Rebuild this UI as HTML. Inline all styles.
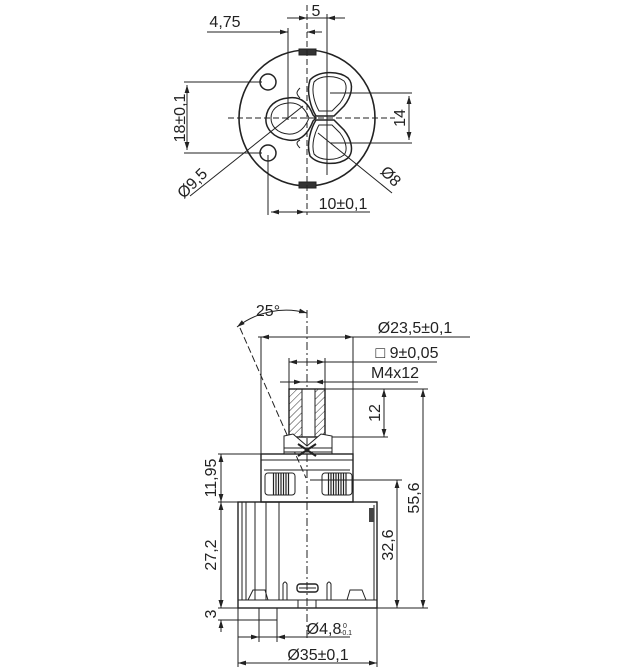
<!DOCTYPE html>
<html><head><meta charset="utf-8"><style>
html,body{margin:0;padding:0;background:#fff;}
svg{display:block;}
text{font-family:"Liberation Sans Narrow","Liberation Sans",sans-serif;font-size:16px;fill:#222;}
</style></head><body>
<svg width="625" height="670" viewBox="0 0 625 670" xmlns="http://www.w3.org/2000/svg">
<defs>
<marker id="a" viewBox="0 0 10 6" refX="10" refY="3" markerWidth="8" markerHeight="5" orient="auto-start-reverse"><path d="M0,0L10,3L0,6z" fill="#222"/></marker>
<pattern id="h" width="5" height="5" patternUnits="userSpaceOnUse" patternTransform="rotate(45)"><line x1="0" y1="0" x2="0" y2="5" stroke="#333" stroke-width="1"/></pattern>
<pattern id="v" width="2.5" height="5" patternUnits="userSpaceOnUse"><line x1="1" y1="0" x2="1" y2="5" stroke="#222" stroke-width="1.2"/></pattern>
</defs>
<g stroke="#222" fill="none" stroke-width="1">
<!-- TOP VIEW -->
<circle cx="307" cy="118" r="68" stroke-width="1.6"/>
<rect x="299" y="49" width="17" height="6" fill="#333"/>
<rect x="299" y="182" width="17" height="6" fill="#333"/>
<circle cx="268" cy="82" r="8" stroke-width="1.5"/>
<circle cx="268" cy="153" r="8" stroke-width="1.5"/>
<path d="M288,98 C300,96 308,102 313,115 L316,118 L313,121 C308,134 300,142 288,140 C273,138 265,128 266,118 C267,106 276,99 288,98Z" stroke-width="1.5"/>
<path d="M288,103 C298,102 305,108 309,118 C305,128 298,135 288,134 C277,133 271,126 271,118 C271,110 277,104 288,103Z"/>
<path d="M310,80 C318,71 338,70 348,78 C354,84 352,96 344,106 L334,116 L316,116 C311,108 306,92 310,80Z" stroke-width="1.5"/>
<path d="M314,82 C320,75 336,75 344,81 C348,86 346,95 340,103 L332,111 L319,111 C315,104 311,92 314,82Z"/>
<path d="M310,156 C318,165 338,166 348,158 C354,152 352,140 344,130 L334,120 L316,120 C311,128 306,144 310,156Z" stroke-width="1.5"/>
<path d="M314,154 C320,161 336,161 344,155 C348,150 346,141 340,133 L332,125 L319,125 C315,132 311,144 314,154Z"/>
<path d="M300,88 C296,92 296,94 300,98" />
<path d="M300,148 C296,144 296,142 300,140" />
<line x1="228" y1="118" x2="395" y2="118" stroke-dasharray="6,3"/>
<line x1="307" y1="5" x2="307" y2="215" stroke-dasharray="6,3"/>
<line x1="288" y1="28" x2="288" y2="120"/>
<line x1="327" y1="14" x2="327" y2="175"/>
<line x1="268" y1="155" x2="268" y2="215"/>
<line x1="287" y1="18" x2="307" y2="18" marker-end="url(#a)"/>
<line x1="345" y1="18" x2="327" y2="18" marker-end="url(#a)"/>
<line x1="307" y1="18" x2="327" y2="18"/>
<line x1="207" y1="32" x2="288" y2="32" marker-end="url(#a)"/>
<line x1="322" y1="32" x2="307" y2="32" marker-end="url(#a)"/>
<line x1="184" y1="82" x2="262" y2="82"/><line x1="184" y1="153" x2="262" y2="153"/>
<line x1="187" y1="85" x2="187" y2="150" marker-start="url(#a)" marker-end="url(#a)"/>
<line x1="330" y1="93" x2="412" y2="93"/><line x1="330" y1="143" x2="412" y2="143"/>
<line x1="409" y1="96" x2="409" y2="140" marker-start="url(#a)" marker-end="url(#a)"/>
<line x1="271" y1="212" x2="370" y2="212"/>
<line x1="271" y1="212" x2="305" y2="212" marker-start="url(#a)" marker-end="url(#a)"/>
<line x1="303" y1="106" x2="190" y2="196"/>
<line x1="318" y1="133" x2="392" y2="193"/>

<!-- SIDE VIEW -->
<line x1="307" y1="310" x2="307" y2="640" stroke-dasharray="8,3,2,3"/>
<line x1="240" y1="328" x2="306" y2="478" stroke-dasharray="7,3"/>
<path d="M237,327 A80,80 0 0 1 307,313" marker-start="url(#a)" marker-end="url(#a)"/>
<rect x="289" y="389" width="36" height="48" fill="url(#h)"/>
<rect x="302" y="389" width="13" height="48" fill="#fff"/>
<rect x="289" y="389" width="36" height="48" stroke-width="1.4"/>
<line x1="302" y1="389" x2="302" y2="437"/><line x1="315" y1="389" x2="315" y2="437"/>
<path d="M284,436 L293,434 L300,440 L307,446 L314,440 L321,434 L332,436 L332,452 L284,452Z" fill="#fff"/>
<path d="M298,444 L316,456 M316,444 L298,456" stroke-width="2"/>
<rect x="284" y="448" width="48" height="6"/>
<rect x="261" y="454" width="92" height="48" stroke-width="1.4"/>
<line x1="261" y1="460" x2="353" y2="460"/>
<line x1="264" y1="470" x2="350" y2="470"/>
<rect x="265" y="473" width="30" height="22" rx="3"/>
<rect x="322" y="473" width="30" height="22" rx="3"/>
<rect x="272" y="473" width="18" height="22" fill="url(#v)" stroke="none"/>
<rect x="327" y="473" width="20" height="22" fill="url(#v)" stroke="none"/>
<rect x="238" y="502" width="139" height="106" stroke-width="1.4"/>
<line x1="238" y1="600" x2="377" y2="600"/>
<line x1="242" y1="502" x2="242" y2="600"/>
<line x1="246" y1="502" x2="246" y2="600"/>
<line x1="255" y1="502" x2="255" y2="600"/>
<line x1="266" y1="502" x2="266" y2="600"/>
<line x1="279" y1="502" x2="279" y2="600"/>
<line x1="374" y1="505" x2="374" y2="600"/>
<rect x="369" y="508" width="5" height="14" fill="#444" stroke="none"/>
<path d="M248,600 L253,590 L265,590 L268,600" />
<path d="M347,600 L350,590 L362,590 L366,600" />
<rect x="297" y="584" width="21" height="8" rx="3" stroke-width="1.4"/>
<line x1="299" y1="588" x2="316" y2="588"/>
<path d="M283,600 L283,584 Q285,580 287,584 L287,600"/>
<path d="M327,600 L327,584 Q329,580 331,584 L331,600"/>
<line x1="298" y1="600" x2="298" y2="608"/><line x1="316" y1="600" x2="316" y2="608"/>
<rect x="259" y="608" width="18" height="12"/>
<line x1="258" y1="337" x2="470" y2="337"/>
<line x1="261" y1="337" x2="353" y2="337" marker-start="url(#a)" marker-end="url(#a)"/>
<line x1="261" y1="337" x2="261" y2="454"/>
<line x1="353" y1="337" x2="353" y2="454"/>
<line x1="289" y1="358" x2="289" y2="389"/><line x1="325" y1="358" x2="325" y2="389"/>
<line x1="289" y1="362" x2="437" y2="362"/>
<line x1="289" y1="362" x2="325" y2="362" marker-start="url(#a)" marker-end="url(#a)"/>
<line x1="280" y1="382" x2="418" y2="382"/>
<line x1="282" y1="382" x2="302" y2="382" marker-end="url(#a)"/>
<line x1="325" y1="382" x2="315" y2="382" marker-end="url(#a)"/>
<line x1="325" y1="389" x2="428" y2="389"/>
<line x1="332" y1="437" x2="388" y2="437"/>
<line x1="384" y1="389" x2="384" y2="437" marker-start="url(#a)" marker-end="url(#a)"/>
<line x1="423" y1="389" x2="423" y2="608" marker-start="url(#a)" marker-end="url(#a)"/>
<line x1="310" y1="480" x2="402" y2="480"/>
<line x1="397" y1="480" x2="397" y2="608" marker-start="url(#a)" marker-end="url(#a)"/>
<line x1="377" y1="608" x2="428" y2="608"/>
<line x1="218" y1="454" x2="261" y2="454"/>
<line x1="218" y1="502" x2="238" y2="502"/>
<line x1="218" y1="608" x2="238" y2="608"/>
<line x1="218" y1="620" x2="259" y2="620"/>
<line x1="221" y1="454" x2="221" y2="502" marker-start="url(#a)" marker-end="url(#a)"/>
<line x1="221" y1="502" x2="221" y2="608" marker-start="url(#a)" marker-end="url(#a)"/>
<line x1="221" y1="596" x2="221" y2="608" marker-end="url(#a)"/>
<line x1="221" y1="632" x2="221" y2="620" marker-end="url(#a)"/>
<line x1="259" y1="620" x2="259" y2="642"/><line x1="277" y1="620" x2="277" y2="642"/>
<line x1="238" y1="608" x2="238" y2="667"/><line x1="377" y1="608" x2="377" y2="667"/>
<line x1="238" y1="637" x2="350" y2="637"/>
<line x1="242" y1="637" x2="259" y2="637" marker-end="url(#a)"/>
<line x1="294" y1="637" x2="277" y2="637" marker-end="url(#a)"/>
<line x1="238" y1="663" x2="377" y2="663" marker-start="url(#a)" marker-end="url(#a)"/>
</g>
<text x="316" y="16" text-anchor="middle">5</text>
<text x="225" y="27" text-anchor="middle">4,75</text>
<text transform="translate(185,118) rotate(-90)" text-anchor="middle">18±0,1</text>
<text transform="translate(405,118) rotate(-90)" text-anchor="middle">14</text>
<text x="343" y="209" text-anchor="middle">10±0,1</text>
<text transform="translate(196,187) rotate(-45)" text-anchor="middle">Ø9,5</text>
<text transform="translate(387,180) rotate(45)" text-anchor="middle">Ø8</text>
<text x="268" y="316" text-anchor="middle">25°</text>
<text x="415" y="333" text-anchor="middle">Ø23,5±0,1</text>
<text x="407" y="358" text-anchor="middle">□ 9±0,05</text>
<text x="395" y="378" text-anchor="middle">M4x12</text>
<text transform="translate(380,413) rotate(-90)" text-anchor="middle">12</text>
<text transform="translate(419,498) rotate(-90)" text-anchor="middle">55,6</text>
<text transform="translate(393,545) rotate(-90)" text-anchor="middle">32,6</text>
<text transform="translate(216,478) rotate(-90)" text-anchor="middle">11,95</text>
<text transform="translate(216,555) rotate(-90)" text-anchor="middle">27,2</text>
<text transform="translate(216,614) rotate(-90)" text-anchor="middle">3</text>
<text x="324" y="634" text-anchor="middle">Ø4,8</text>
<text x="343" y="628" style="font-size:7px">0</text>
<text x="340" y="635" style="font-size:7px">-0.1</text>
<text x="318" y="660" text-anchor="middle">Ø35±0,1</text>
</svg>
</body></html>
